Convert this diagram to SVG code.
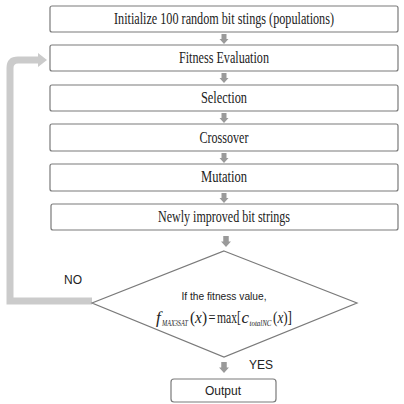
<svg xmlns="http://www.w3.org/2000/svg" width="404" height="404" viewBox="0 0 404 404">
<defs>
<style>
.box{fill:#fff;stroke:#7a7a7a;stroke-width:1.2}
.t{font-family:"Liberation Serif","Times New Roman",serif;font-size:16px;fill:#222;text-anchor:middle}
.s{font-family:"Liberation Sans",Arial,sans-serif;fill:#222}
.m{font-family:"Liberation Serif","Times New Roman",serif;font-size:17px;fill:#222}
.i{font-style:italic}
.sub{font-family:"Liberation Serif","Times New Roman",serif;font-size:7.5px;font-style:italic;fill:#222}
.arr{fill:#9a9a9a}
</style>
<path id="da" d="M-2.5,0 H2.5 V5 H4.5 L0,10 L-4.5,5 H-2.5 Z"/>
</defs>
<rect width="404" height="404" fill="#fff"/>
<g id="connectors">
<use href="#da" class="arr" x="224" y="34"/>
<use href="#da" class="arr" x="224" y="73"/>
<use href="#da" class="arr" x="224" y="113"/>
<use href="#da" class="arr" x="224" y="153"/>
<use href="#da" class="arr" x="224" y="193"/>
<use href="#da" class="arr" transform="translate(226,236) scale(1.1)"/>
<use href="#da" class="arr" transform="translate(224,362) scale(1.1)"/>
<path d="M92,301 H10 V68 Q10,60 18,60 H40" fill="none" stroke="#cbcbcb" stroke-width="7"/>
<polygon points="38,53 47,60 38,67" fill="#cbcbcb"/>
<text class="s" x="64" y="284" font-size="12">NO</text>
<text class="s" x="249" y="369" font-size="12">YES</text>
</g>
<g id="n1"><rect class="box" x="50" y="6" width="348" height="26" rx="2"/><text class="t" x="224" y="24" textLength="220" lengthAdjust="spacingAndGlyphs">Initialize 100 random bit stings (populations)</text></g>
<g id="n2"><rect class="box" x="50" y="45" width="348" height="26" rx="2"/><text class="t" x="224" y="63" textLength="90" lengthAdjust="spacingAndGlyphs">Fitness Evaluation</text></g>
<g id="n3"><rect class="box" x="50" y="85" width="348" height="26" rx="2"/><text class="t" x="224" y="103" textLength="46" lengthAdjust="spacingAndGlyphs">Selection</text></g>
<g id="n4"><rect class="box" x="50" y="124" width="348" height="27" rx="2"/><text class="t" x="224" y="143" textLength="49" lengthAdjust="spacingAndGlyphs">Crossover</text></g>
<g id="n5"><rect class="box" x="50" y="164" width="348" height="27" rx="2"/><text class="t" x="224" y="182" textLength="46" lengthAdjust="spacingAndGlyphs">Mutation</text></g>
<g id="n6"><rect class="box" x="51" y="204" width="347" height="26" rx="2"/><text class="t" x="224" y="222" textLength="132" lengthAdjust="spacingAndGlyphs">Newly improved bit strings</text></g>
<g id="n7">
<polygon class="box" points="224,251 357,303 224,357 92,303"/>
<text class="s" x="224" y="300" font-size="11.5" text-anchor="middle" textLength="85" lengthAdjust="spacingAndGlyphs">If the fitness value,</text>
<text class="m i" x="156" y="323">f</text>
<text class="sub" x="162" y="326" textLength="26" lengthAdjust="spacingAndGlyphs">MAX3SAT</text>
<text class="m" x="190" y="323" textLength="17" lengthAdjust="spacingAndGlyphs">(<tspan class="i">x</tspan>)</text>
<text class="m" x="208.5" y="323" textLength="7" lengthAdjust="spacingAndGlyphs">=</text>
<text class="m" x="217" y="323" textLength="24" lengthAdjust="spacingAndGlyphs">max[</text>
<text class="m i" x="241.5" y="323">c</text>
<text class="sub" x="249.5" y="326" textLength="22" lengthAdjust="spacingAndGlyphs">totalNC</text>
<text class="m" x="273" y="323" textLength="19" lengthAdjust="spacingAndGlyphs">(<tspan class="i">x</tspan>)]</text>
</g>
<g id="n8"><rect class="box" x="171" y="379" width="105" height="23" rx="3"/><text class="s" x="223" y="395" font-size="12" text-anchor="middle">Output</text></g>
</svg>
